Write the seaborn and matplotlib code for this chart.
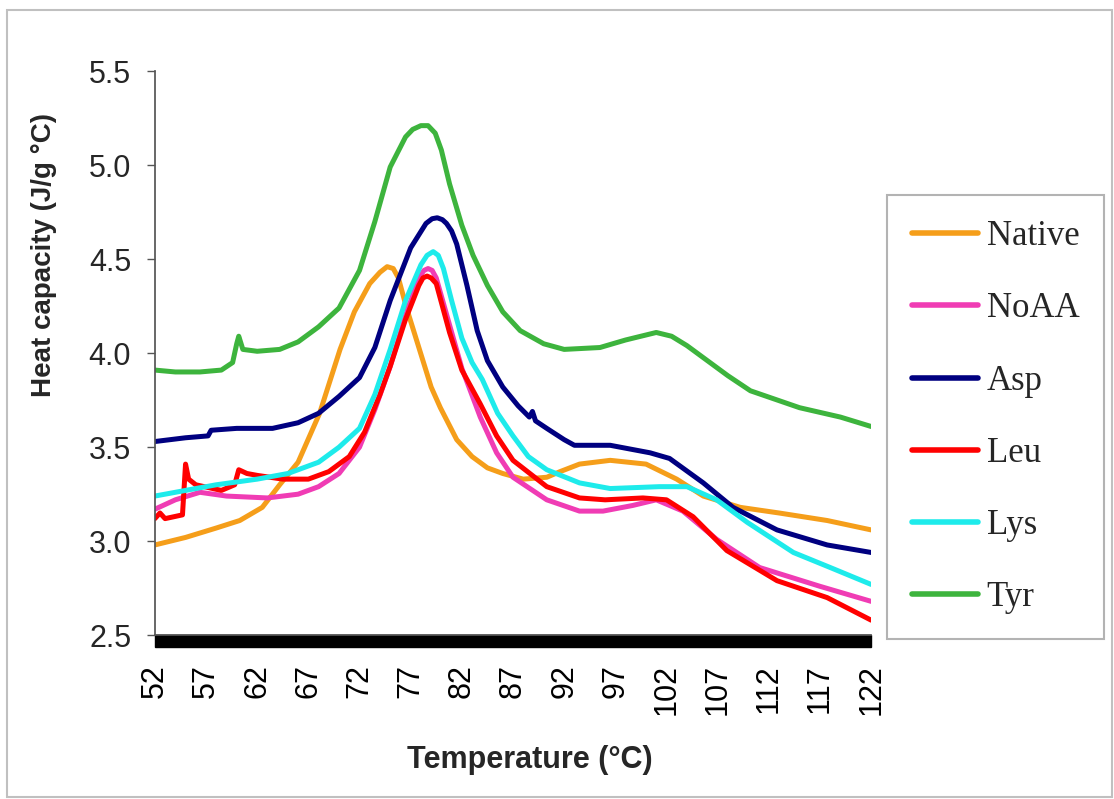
import matplotlib
matplotlib.use("Agg")
import matplotlib.pyplot as plt
from matplotlib.patches import Rectangle
import seaborn as sns
import pandas as pd

# heat capacity curves
t_native = [52, 55, 58, 60.3, 62.5, 64.2, 66, 68.1, 70.1, 71.5, 73, 74, 74.7, 75.3, 75.8, 76.6, 77.4, 78.2, 79, 79.9,
            81.5, 83, 84.5, 86, 88, 90.3, 91.6, 93.5, 96.5, 100, 103, 105.6, 109.2, 113, 117.7, 122]
cp_native = [2.98, 3.02, 3.07, 3.11, 3.18, 3.30, 3.42, 3.68, 4.02, 4.22, 4.37, 4.43, 4.46, 4.45, 4.40, 4.24, 4.10, 3.96, 3.82, 3.71,
             3.54, 3.45, 3.39, 3.36, 3.33, 3.34, 3.37, 3.41, 3.43, 3.41, 3.33, 3.24, 3.18, 3.15, 3.11, 3.06]

t_noaa = [52, 54, 56.4, 59, 63, 66, 68, 70, 72, 73.5, 75, 76.5, 77.8, 78.3, 78.7, 79.1, 79.5, 80.8, 82, 83.8, 85.4, 87,
          90.3, 93.5, 95.8, 98.7, 101, 103.6, 106.9, 111.1, 117, 122]
cp_noaa = [3.17, 3.22, 3.26, 3.24, 3.23, 3.25, 3.29, 3.36, 3.50, 3.70, 3.93, 4.20, 4.40, 4.44, 4.45, 4.44, 4.40, 4.15, 3.92, 3.66, 3.47, 3.34,
           3.22, 3.16, 3.16, 3.19, 3.22, 3.16, 3.01, 2.86, 2.76, 2.68]

t_asp = [52, 55, 57.2, 57.5, 60, 63.5, 66, 68, 70, 72, 73.5, 75, 77, 78.5, 79.1, 79.6, 80.1, 80.5, 81, 81.5, 82.5, 83.5, 84.5, 86,
         87.5, 88.6, 88.9, 89.2, 90.3, 92, 93, 96.5, 100.4, 102.3, 105.6, 108.5, 112.8, 117.7, 122]
cp_asp = [3.53, 3.55, 3.56, 3.59, 3.60, 3.60, 3.63, 3.68, 3.77, 3.87, 4.03, 4.28, 4.56, 4.69, 4.715, 4.72, 4.71, 4.69, 4.65, 4.58, 4.36, 4.12, 3.96, 3.82,
          3.72, 3.66, 3.69, 3.64, 3.60, 3.54, 3.51, 3.51, 3.47, 3.44, 3.31, 3.18, 3.06, 2.98, 2.94]

t_leu = [52, 52.5, 53, 54.7, 55.0, 55.3, 56, 58.5, 59.8, 60.2, 61, 62, 64.5, 67, 69, 71, 72.5, 74, 75, 76.5, 77.8,
         78.2, 78.6, 79, 79.5, 80.8, 82, 83.8, 85.4, 87, 90.3, 93.5, 96, 99.7, 102, 104.6, 107.9, 112.8, 117.7, 122]
cp_leu = [3.12, 3.15, 3.12, 3.14, 3.41, 3.33, 3.30, 3.27, 3.30, 3.38, 3.36, 3.35, 3.33, 3.33, 3.37, 3.45, 3.58, 3.78, 3.93, 4.18, 4.36,
          4.40, 4.41, 4.40, 4.37, 4.11, 3.91, 3.73, 3.56, 3.43, 3.29, 3.23, 3.22, 3.23, 3.22, 3.13, 2.95, 2.79, 2.70, 2.58]

t_lys = [52, 55, 58, 62, 65, 68, 70, 72, 73.5, 75, 76.5, 78, 78.6, 79.2, 79.7, 80.2, 81, 82, 83, 84, 85.5, 87, 88.5, 90.3,
         93.5, 96.5, 101.3, 104, 106.9, 109.9, 114.4, 118, 122]
cp_lys = [3.24, 3.27, 3.30, 3.33, 3.36, 3.42, 3.50, 3.60, 3.78, 4.02, 4.28, 4.47, 4.52, 4.54, 4.52, 4.45, 4.28, 4.08, 3.95, 3.86, 3.68, 3.56, 3.45, 3.38,
          3.31, 3.28, 3.29, 3.29, 3.22, 3.10, 2.94, 2.86, 2.77]

t_tyr = [52, 54, 56.4, 58.5, 59.6, 60.0, 60.2, 60.6, 62, 64.2, 66, 68, 70, 72, 73.5, 75, 76.5, 77.2, 78, 78.7, 79.4, 80, 80.8, 82,
         83.1, 84.5, 86, 87.7, 90, 92, 95.5, 98, 101, 102.5, 104, 106, 108, 110.2, 115, 119, 122]
cp_tyr = [3.91, 3.90, 3.90, 3.91, 3.95, 4.05, 4.09, 4.02, 4.01, 4.02, 4.06, 4.14, 4.24, 4.44, 4.70, 4.99, 5.15, 5.19, 5.21, 5.21, 5.17, 5.08, 4.90, 4.68,
          4.52, 4.36, 4.22, 4.12, 4.05, 4.02, 4.03, 4.07, 4.11, 4.09, 4.04, 3.96, 3.88, 3.80, 3.71, 3.66, 3.61]

samples = ["Native", "NoAA", "Asp", "Leu", "Lys", "Tyr"]
colors = ["#F59E1A", "#F03CB4", "#000080", "#FF0000", "#1EEBEB", "#3DB43D"]
x_ticks = list(range(52, 123, 5))
y_ticks = [2.5, 3.0, 3.5, 4.0, 4.5, 5.0, 5.5]

series = [(t_native, cp_native), (t_noaa, cp_noaa), (t_asp, cp_asp),
          (t_leu, cp_leu), (t_lys, cp_lys), (t_tyr, cp_tyr)]
frames = []
for name, (t, cp) in zip(samples, series):
    frames.append(pd.DataFrame({"Temperature": t, "Cp": cp, "Sample": name}))
df = pd.concat(frames, ignore_index=True)

sns.set_theme(style="white")
plt.rcParams["font.family"] = ["Liberation Sans", "DejaVu Sans"]

fig = plt.figure(figsize=(11.14, 7.99), dpi=100)
ax = fig.add_axes([0.139, 0.205, 0.643, 0.706])

sns.lineplot(data=df, x="Temperature", y="Cp", hue="Sample", hue_order=samples,
             palette=dict(zip(samples, colors)), estimator=None, sort=False,
             linewidth=3.6, ax=ax)
for line in ax.get_lines():
    line.set_solid_joinstyle("round")
    line.set_solid_capstyle("round")

ax.set_xlim(52, 122)
ax.set_ylim(2.5, 5.5)
ax.set_xticks(x_ticks)
ax.set_xticklabels([str(v) for v in x_ticks], rotation=90, fontsize=22)
ax.set_yticks(y_ticks)
ax.set_yticklabels([f"{v:.1f}" for v in y_ticks], fontsize=22)
ax.tick_params(axis="x", length=0, pad=21, colors="black")
ax.tick_params(axis="y", left=True, length=6, width=1, color="#555555", pad=11)

sns.despine(ax=ax)
ax.spines["left"].set_color("#555555")
ax.spines["bottom"].set_color("#555555")

# thick black category-axis band under the plot
ax.add_patch(Rectangle((0, -0.021), 1, 0.021, transform=ax.transAxes,
                       color="black", clip_on=False))

ax.set_xlabel("Temperature (°C)", fontsize=22, fontweight="bold")
ax.set_ylabel("Heat capacity (J/g °C)", fontsize=20, fontweight="bold")
ax.xaxis.set_label_coords(0.524, -0.195)
ax.yaxis.set_label_coords(-0.137, 0.674)

sns.move_legend(ax, "upper left", bbox_to_anchor=(1.022, 0.78), title=None,
                prop={"family": "Liberation Serif", "size": 25},
                frameon=True, fancybox=False, borderpad=0.72, labelspacing=1.13,
                handlelength=1.9, handletextpad=0.25, borderaxespad=0)
leg = ax.get_legend()
leg.get_frame().set_edgecolor("#a0a0a0")
leg.get_frame().set_linewidth(1.5)
for line in leg.get_lines():
    line.set_linewidth(4)

fig.patches.append(Rectangle((0.0063, 0.0025), 0.9917, 0.985, transform=fig.transFigure,
                             fill=False, edgecolor="#c0c0c0", linewidth=1.5))

fig.savefig("out.png", dpi=100)
